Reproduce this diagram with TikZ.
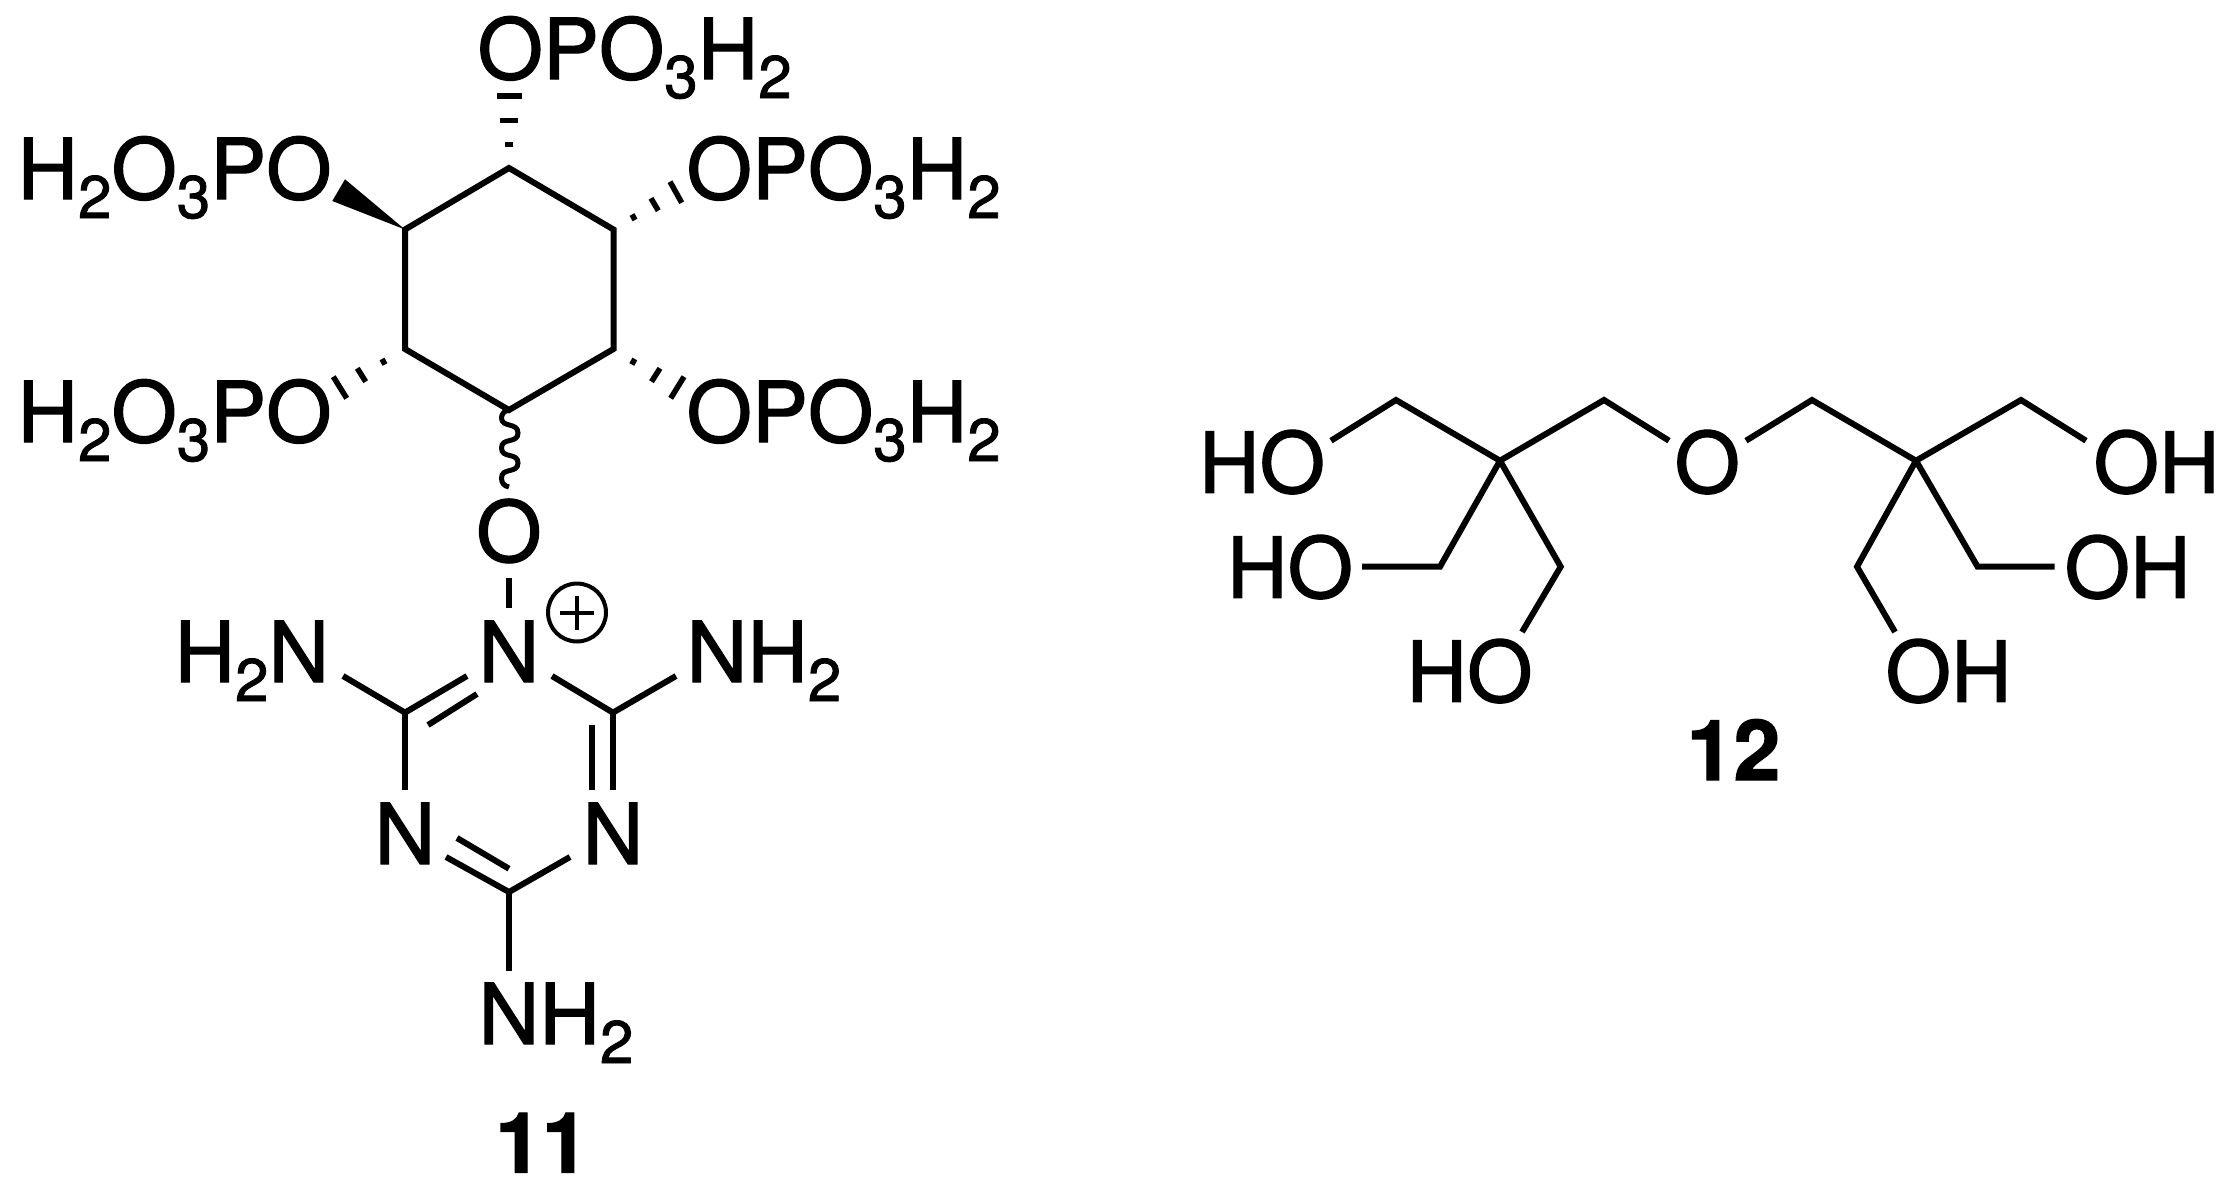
\documentclass[tikz,border=0pt]{standalone}
\usepackage{fontspec}
\setmainfont[FakeBold=1.5]{TeX Gyre Heros}
\newfontfamily\lblfont[FakeBold=1.5]{TeX Gyre Heros Bold}
\newcommand{\sbs}[1]{\raisebox{-19pt}{\fontsize{60}{60}\selectfont #1}}
\tikzset{
  every picture/.style={x=1pt,y=-1pt},
  bond/.style={line width=6pt,line cap=butt,line join=miter,black},
  hashbond/.style={line width=5.5pt,line cap=butt,black},
  wavy/.style={line width=5pt,line cap=butt,black},
  atom/.style={inner sep=0pt,outer sep=0pt,anchor=base west,font=\fontsize{84}{84}\selectfont,text=black},
  cmpd/.style={inner sep=0pt,outer sep=0pt,anchor=base,font=\fontsize{84}{84}\selectfont\lblfont,text=black},
}
\begin{document}
\begin{tikzpicture}
\useasboundingbox (0,0) rectangle (2231,1191);
\fill[white] (0,0) rectangle (2231,1191);
\coordinate (r1) at (509,168);
\coordinate (r2) at (613.5,229.5);
\coordinate (r3) at (613.5,349);
\coordinate (r4) at (509,410);
\coordinate (r5) at (405,349);
\coordinate (r6) at (405,229.5);
\draw[bond] (r1) -- (r2) -- (r3) -- (r4) -- (r5) -- (r6) -- cycle;
\node[atom] (otop) at (477.6,79) {OPO\sbs{3}H\sbs{2}};
\node[atom] (olt) at (17.5,199) {H\sbs{2}O\sbs{3}PO};
\node[atom] (ort) at (686.6,199) {OPO\sbs{3}H\sbs{2}};
\node[atom] (olb) at (17.5,442) {H\sbs{2}O\sbs{3}PO};
\node[atom] (orb) at (686.6,442) {OPO\sbs{3}H\sbs{2}};
\node[atom] (olink) at (476.3,561.6) {O};
\node[atom] (nplus) at (478.7,682) {N};
\node[atom] (nh2l) at (174.5,682) {H\sbs{2}N};
\node[atom] (nh2r) at (686.6,682) {NH\sbs{2}};
\node[atom] (nl) at (374.7,864) {N};
\node[atom] (nr) at (582.7,864) {N};
\node[atom] (nh2b) at (478.7,1044) {NH\sbs{2}};
\node[cmpd] (lab11) at (542,1172.5) {11};
\coordinate (w1) at (345,179.3);
\coordinate (w2) at (332.3,201);
\fill[black] (r6) -- (w1) -- (w2) -- cycle;
\coordinate (h1a) at (496.5,96); \coordinate (h1b) at (521.5,96);
\coordinate (h2a) at (500,120.7); \coordinate (h2b) at (517.5,120.7);
\coordinate (h3a) at (505,144.3); \coordinate (h3b) at (513,144.3);
\draw[hashbond] (h1a) -- (h1b);
\draw[hashbond] (h2a) -- (h2b);
\draw[hashbond] (h3a) -- (h3b);
\coordinate (h4a) at (670,181.7); \coordinate (h4b) at (681.7,202.7);
\coordinate (h5a) at (651,198.3); \coordinate (h5b) at (658.3,210.7);
\coordinate (h6a) at (632,214.5); \coordinate (h6b) at (635,220);
\draw[hashbond] (h4a) -- (h4b);
\draw[hashbond] (h5a) -- (h5b);
\draw[hashbond] (h6a) -- (h6b);
\coordinate (h7a) at (382,359); \coordinate (h7b) at (385,364.5);
\coordinate (h8a) at (357.3,368.3); \coordinate (h8b) at (365.7,381.7);
\coordinate (h9a) at (333.3,376.7); \coordinate (h9b) at (346.7,398.3);
\draw[hashbond] (h7a) -- (h7b);
\draw[hashbond] (h8a) -- (h8b);
\draw[hashbond] (h9a) -- (h9b);
\coordinate (h10a) at (631.8,364.5); \coordinate (h10b) at (634.8,359);
\coordinate (h11a) at (651.5,381.7); \coordinate (h11b) at (660,368.3);
\coordinate (h12a) at (670.7,398.3); \coordinate (h12b) at (684,376.7);
\draw[hashbond] (h10a) -- (h10b);
\draw[hashbond] (h11a) -- (h11b);
\draw[hashbond] (h12a) -- (h12b);
\coordinate (wv) at (509,487);
\draw[wavy] (r4) .. controls (504,411) and (501.5,414) .. (501.5,418)
  .. controls (501.5,428) and (518,422) .. (518,433)
  .. controls (518,444) and (501.5,437) .. (501.5,448)
  .. controls (501.5,459) and (518,452) .. (518,463)
  .. controls (518,474) and (501.5,467) .. (501.5,478)
  .. controls (501.5,483) and (504,486) .. (wv);
\coordinate (t1) at (405,712.6);
\coordinate (t2) at (613,712.6);
\coordinate (t3) at (509,892);
\coordinate (go1) at (509,577.5); \coordinate (go2) at (509,608);
\draw[bond] (go1) -- (go2);
\coordinate (g1) at (343,676);
\coordinate (g2) at (467,676);
\coordinate (g3) at (552,676);
\coordinate (g4) at (676,676);
\coordinate (g5) at (405,790);
\coordinate (g6) at (613,790);
\coordinate (g7) at (446,857);
\coordinate (g8) at (570,857);
\coordinate (g9) at (509,971);
\draw[bond] (g1) -- (t1) -- (g2);
\draw[bond] (g3) -- (t2) -- (g4);
\draw[bond] (t1) -- (g5);
\draw[bond] (t2) -- (g6);
\draw[bond] (g7) -- (t3) -- (g8);
\draw[bond] (t3) -- (g9);
\coordinate (d1a) at (428,725); \coordinate (d1b) at (477,694);
\coordinate (d2a) at (591.7,725); \coordinate (d2b) at (591.7,790);
\coordinate (d3a) at (457,838); \coordinate (d3b) at (509,868.7);
\draw[bond] (d1a) -- (d1b);
\draw[bond] (d2a) -- (d2b);
\draw[bond] (d3a) -- (d3b);
\node[circle,draw=black,line width=4pt,minimum size=58pt,inner sep=0pt] (plus) at (577,612.5) {};
\draw[line width=4pt,black] ([xshift=-17pt]plus.center) -- ([xshift=17pt]plus.center);
\draw[line width=4pt,black] ([yshift=-17pt]plus.center) -- ([yshift=17pt]plus.center);
\coordinate (q1) at (1500,460.7);
\coordinate (q2) at (1916,460.7);
\coordinate (a1) at (1396,400);
\coordinate (a2) at (1604,400);
\coordinate (a3) at (1812,400);
\coordinate (a4) at (2021,400);
\coordinate (b1) at (1440,566.7);
\coordinate (b2) at (1560.7,566.7);
\coordinate (b3) at (1857,566.7);
\coordinate (b4) at (1977.6,566.7);
\coordinate (e1) at (1331,440.7);
\coordinate (e2) at (1669,440.7);
\coordinate (e3) at (1746,440.7);
\coordinate (e4) at (2086,440.7);
\coordinate (e5) at (1362,566.7);
\coordinate (e6) at (1522,632);
\coordinate (e7) at (1895,632);
\coordinate (e8) at (2054.7,566.7);
\draw[bond] (e1) -- (a1) -- (q1) -- (a2) -- (e2);
\draw[bond] (e3) -- (a3) -- (q2) -- (a4) -- (e4);
\draw[bond] (q1) -- (b1) -- (e5);
\draw[bond] (q1) -- (b2) -- (e6);
\draw[bond] (q2) -- (b3) -- (e7);
\draw[bond] (q2) -- (b4) -- (e8);
\node[atom] (ho1) at (1199,492.7) {HO};
\node[atom] (ho2) at (1227,597.7) {HO};
\node[atom] (ho3) at (1406.5,701.7) {HO};
\node[atom] (oc) at (1674.6,492.7) {O};
\node[atom] (oh1) at (2093.6,492.7) {OH};
\node[atom] (oh2) at (2064.6,597.7) {OH};
\node[atom] (oh3) at (1885.6,701.7) {OH};
\node[cmpd] (lab12) at (1733.6,780) {12};
\end{tikzpicture}
\end{document}
